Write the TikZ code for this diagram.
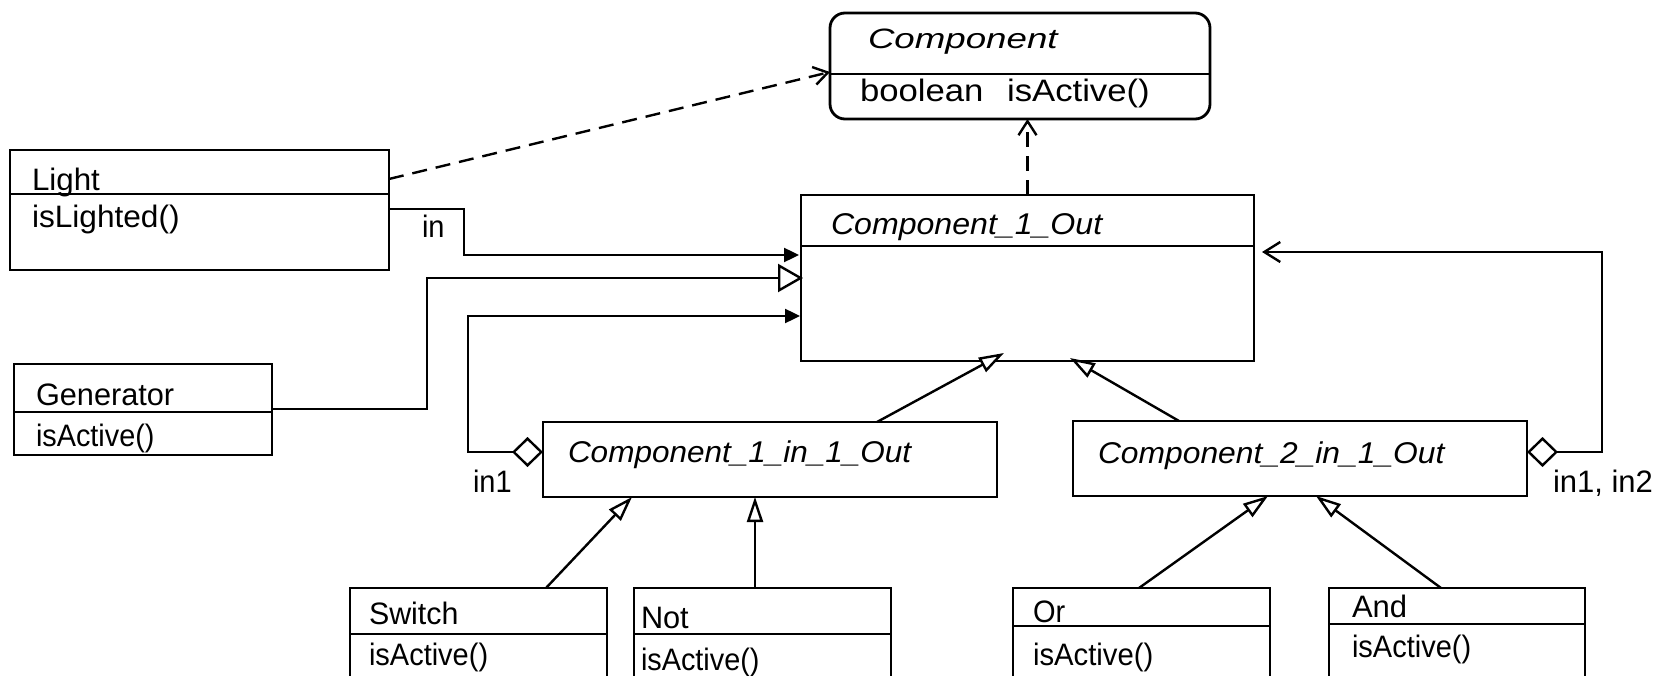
\documentclass[tikz,border=0pt]{standalone}
\usepackage{fontspec}
\setmainfont{Liberation Sans}
\usepackage{graphicx}
\usetikzlibrary{arrows.meta,calc}

% horizontal stretch of a piece of text
\newcommand\hs[2]{\scalebox{#1}[1]{#2}}

\tikzset{
  cls/.style={draw, line width=2.8pt, inner sep=0pt, outer sep=0pt,
              anchor=north west, line join=miter},
  divider/.style={line width=2.8pt},
  txt/.style={inner sep=0pt, outer sep=0pt, anchor=base west,
              font=\fontsize{31}{35}\selectfont},
  itx/.style={txt, font=\fontsize{30}{34}\selectfont\itshape},
  conn/.style={line width=2.4pt, line join=miter},
  dep/.style={conn, dash pattern=on 15pt off 9pt,
              -{Straight Barb[length=14pt,width=18pt]}},
  nav/.style={conn, -{Triangle[length=15pt,width=14pt]}},
  genbig/.style={conn, -{Triangle[length=25pt,width=28pt,fill=white]}},
  gsm/.style={conn, -{Triangle[length=25pt,width=16pt,fill=white]}},
  aggnav/.style={conn, {Diamond[length=31pt,width=30pt,fill=white]}-{Triangle[length=15pt,width=14pt]}},
  aggdep/.style={conn, {Diamond[length=31pt,width=30pt,fill=white]}-{Straight Barb[length=16pt,width=20pt]}},
}

\begin{document}
\begin{tikzpicture}[x=1pt,y=-1pt]
\useasboundingbox (0,0) rectangle (1660,676);
\clip (0,0) rectangle (1660,676);

% class boxes
\node[cls, minimum width=380pt, minimum height=106pt, rounded corners=15pt] (comp) at (830,13) {};
\node[cls, minimum width=379pt, minimum height=120pt] (light) at (10,150) {};
\node[cls, minimum width=258pt, minimum height=91pt] (gen) at (14,364) {};
\node[cls, minimum width=453pt, minimum height=166pt] (C1O) at (801,195) {};
\node[cls, minimum width=454pt, minimum height=75pt] (c11) at (543,422) {};
\node[cls, minimum width=454pt, minimum height=75pt] (c21) at (1073,421) {};
\node[cls, minimum width=257pt, minimum height=120pt] (sw) at (350,588) {};
\node[cls, minimum width=257pt, minimum height=120pt] (nt) at (634,588) {};
\node[cls, minimum width=257pt, minimum height=120pt] (orb) at (1013,588) {};
\node[cls, minimum width=256pt, minimum height=120pt] (andb) at (1329,588) {};

% compartment dividers
\draw[divider] ([yshift=-61pt]comp.north west) -- ([yshift=-61pt]comp.north east);
\draw[divider] ([yshift=-44pt]light.north west) -- ([yshift=-44pt]light.north east);
\draw[divider] ([yshift=-48pt]gen.north west) -- ([yshift=-48pt]gen.north east);
\draw[divider] ([yshift=-51pt]C1O.north west) -- ([yshift=-51pt]C1O.north east);
\draw[divider] ([yshift=-46pt]sw.north west) -- ([yshift=-46pt]sw.north east);
\draw[divider] ([yshift=-46pt]nt.north west) -- ([yshift=-46pt]nt.north east);
\draw[divider] ([yshift=-38pt]orb.north west) -- ([yshift=-38pt]orb.north east);
\draw[divider] ([yshift=-36pt]andb.north west) -- ([yshift=-36pt]andb.north east);

% class names and operations
\node[itx, font=\fontsize{28}{32}\selectfont\itshape] (compname) at (868,49) {\hs{1.31}{Component}};
\node[txt] (compop) at (860,102) {\hs{1.12}{boolean\hspace{21pt}isActive()}};
\node[txt] (lightname) at (32,191) {\hs{1.01}{Light}};
\node[txt] (lightop) at (32,228) {\hs{1.02}{isLighted()}};
\node[txt] (genname) at (36,405) {\hs{0.99}{Generator}};
\node[txt] (genop) at (36,446) {\hs{0.93}{isActive()}};
\node[itx] (c1oname) at (831,235) {\hs{1.07}{Component\_1\_Out}};
\node[itx] (c11name) at (568,462) {\hs{1.05}{Component\_1\_in\_1\_Out}};
\node[itx] (c21name) at (1098,463) {\hs{1.06}{Component\_2\_in\_1\_Out}};
\node[txt] (swname) at (369,624) {\hs{0.98}{Switch}};
\node[txt] (swop) at (369,665) {\hs{0.935}{isActive()}};
\node[txt] (ntname) at (641,628) {\hs{0.99}{Not}};
\node[txt] (ntop) at (641,670) {\hs{0.93}{isActive()}};
\node[txt] (orname) at (1033,622) {\hs{0.935}{Or}};
\node[txt] (orop) at (1033,665) {\hs{0.945}{isActive()}};
\node[txt] (andname) at (1352,617) {\hs{1.0}{And}};
\node[txt] (andop) at (1352,657) {\hs{0.935}{isActive()}};

% role labels
\node[txt] (lin) at (422,238) {\hs{0.935}{in}};
\node[txt] (lin1) at (473,492) {\hs{0.935}{in1}};
\node[txt] (lin12) at (1553,492) {\hs{1.0}{in1, in2}};

% realisations of the interface
\draw[dep] ([yshift=-29pt]light.north east) -- ([yshift=-6pt]comp.west);
\draw[dep] (C1O.north) -- (C1O.north |- comp.south);

% associations into Component_1_Out
\draw[nav] ([yshift=-59pt]light.north east) -- ++(75,0) |- ([xshift=-2pt,yshift=-60pt]C1O.north west);
\draw[genbig] ([yshift=-45pt]gen.north east) -- ++(155,0) |- ([xshift=2pt,yshift=-83pt]C1O.north west);
\draw[aggnav] ([yshift=-30pt]c11.north west) -- ++(-75,0) |- ([xshift=-1pt,yshift=-121pt]C1O.north west);
\draw[aggdep] ([yshift=-31pt]c21.north east) -- ++(75,0) |- ([xshift=8pt,yshift=-57pt]C1O.north east);

% generalisations
\draw[gsm] ([xshift=334pt]c11.north west) -- ([xshift=203pt,yshift=8pt]C1O.south west);
\draw[gsm] ([xshift=106pt]c21.north west) -- ([xshift=269pt,yshift=3pt]C1O.south west);
\draw[gsm] ([xshift=196pt]sw.north west) -- ([xshift=89pt]c11.south west);
\draw[gsm] ([xshift=121pt]nt.north west) -- ([xshift=212pt]c11.south west);
\draw[gsm] ([xshift=126pt]orb.north west) -- ([xshift=195pt]c21.south west);
\draw[gsm] ([xshift=112pt]andb.north west) -- ([xshift=243pt]c21.south west);
\end{tikzpicture}
\end{document}
